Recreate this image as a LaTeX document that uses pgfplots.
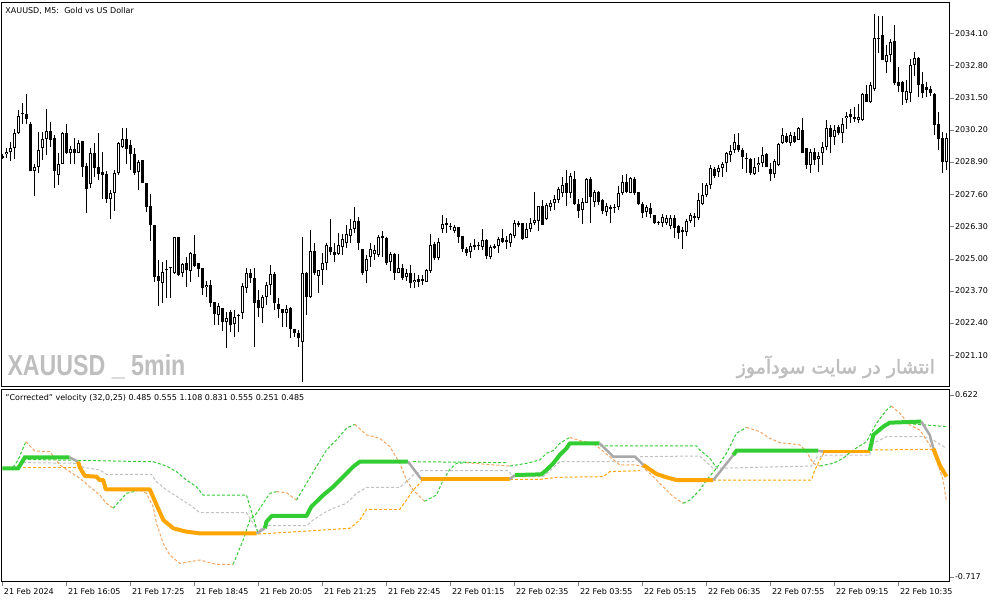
\documentclass[border=0pt]{standalone}
\usepackage{pgfplots}
\pgfplotsset{compat=1.18}
\usepackage{pgfplotstable}
\usepackage{fontspec}
\setmainfont{DejaVu Sans}
\newfontfamily\wmfont[FakeStretch=0.8]{Liberation Sans}
\newfontfamily\fafont[Script=Arabic,FakeBold=2.2]{DejaVu Sans}
\TeXXeTstate=1

\definecolor{upgreen}{RGB}{50,205,50}
\definecolor{dnorange}{RGB}{255,165,0}
\definecolor{sandy}{RGB}{244,164,96}
\definecolor{neutral}{RGB}{169,169,169}
\definecolor{midgray}{RGB}{192,192,192}
\definecolor{wmgray}{RGB}{190,190,190}

% XAUUSD M5 candles: bar index, open, high, low, close
\pgfplotstableread{
i o h l c
0 2029.16 2029.21 2029.02 2029.08
1 2029.21 2029.46 2029.08 2029.31
2 2029.29 2029.72 2028.94 2029.46
3 2029.46 2030.24 2029.02 2030.06
4 2030.06 2031.00 2030.02 2030.76
5 2030.87 2031.27 2030.42 2030.83
6 2030.83 2031.65 2030.42 2030.65
7 2030.42 2030.50 2028.53 2028.53
8 2028.53 2028.82 2027.53 2028.69
9 2028.69 2030.13 2028.45 2029.39
10 2029.46 2030.13 2028.98 2029.82
11 2029.82 2031.04 2029.19 2030.14
12 2030.14 2030.50 2029.52 2029.79
13 2029.86 2029.99 2027.85 2028.55
14 2028.37 2029.25 2027.97 2028.82
15 2028.82 2030.13 2028.81 2030.06
16 2030.06 2030.42 2029.23 2029.25
17 2029.25 2029.56 2028.82 2029.43
18 2029.43 2029.86 2028.82 2029.25
19 2029.25 2029.79 2029.25 2029.66
20 2029.75 2029.75 2028.31 2028.71
21 2028.74 2028.85 2026.86 2027.80
22 2028.00 2029.46 2027.84 2029.25
23 2029.28 2029.66 2028.31 2028.67
24 2028.69 2030.06 2028.18 2028.42
25 2028.51 2029.32 2027.41 2028.39
26 2028.42 2028.55 2027.23 2027.40
27 2027.40 2027.77 2026.59 2027.64
28 2027.64 2028.58 2026.94 2028.47
29 2028.47 2029.72 2028.38 2029.66
30 2029.49 2030.26 2029.46 2029.82
31 2029.82 2030.26 2028.82 2029.41
32 2029.59 2029.79 2028.58 2029.23
33 2029.21 2029.46 2028.38 2028.47
34 2028.51 2028.98 2027.77 2028.92
35 2028.97 2028.97 2028.04 2028.04
36 2028.04 2028.04 2026.87 2027.10
37 2027.13 2027.61 2025.73 2026.36
38 2026.36 2026.36 2024.07 2024.25
39 2024.30 2024.95 2023.09 2024.11
40 2024.03 2024.88 2023.22 2024.48
41 2024.60 2024.95 2023.40 2024.54
42 2024.61 2024.68 2023.40 2024.66
43 2024.41 2025.89 2024.37 2025.89
44 2025.89 2025.89 2024.30 2024.34
45 2024.44 2024.81 2024.25 2024.79
46 2024.81 2025.08 2023.87 2024.54
47 2024.52 2025.26 2024.07 2025.22
48 2025.19 2025.96 2024.68 2024.71
49 2024.81 2024.81 2024.27 2024.57
50 2024.61 2024.61 2023.53 2023.80
51 2023.84 2024.11 2023.44 2023.94
52 2023.94 2024.14 2023.06 2023.22
53 2023.26 2023.26 2022.32 2022.75
54 2022.71 2023.20 2022.32 2023.09
55 2022.99 2022.99 2022.09 2022.46
56 2022.46 2022.86 2021.38 2022.62
57 2022.86 2022.93 2022.05 2022.32
58 2022.35 2022.93 2021.82 2022.66
59 2022.73 2022.77 2022.05 2022.67
60 2022.79 2024.03 2022.55 2023.90
61 2023.80 2024.61 2023.60 2024.41
62 2024.44 2024.57 2024.00 2024.21
63 2024.21 2024.61 2021.45 2023.20
64 2023.33 2023.74 2022.66 2022.99
65 2022.99 2023.53 2022.39 2023.44
66 2023.44 2024.07 2023.13 2023.94
67 2023.92 2024.75 2023.53 2024.38
68 2024.38 2024.48 2022.93 2023.20
69 2023.16 2023.40 2022.59 2022.97
70 2022.97 2022.97 2022.26 2022.79
71 2022.79 2023.13 2022.26 2022.97
72 2022.99 2023.06 2021.78 2022.15
73 2022.15 2022.15 2021.85 2021.99
74 2022.01 2022.12 2021.45 2021.78
75 2021.65 2025.89 2020.04 2024.44
76 2024.44 2024.48 2022.73 2023.47
77 2023.44 2026.16 2023.40 2025.32
78 2025.32 2025.62 2024.34 2024.41
79 2024.30 2024.54 2023.60 2024.54
80 2024.54 2025.22 2023.94 2024.81
81 2024.81 2025.62 2024.54 2025.55
82 2025.46 2026.60 2025.15 2025.28
83 2025.28 2025.62 2024.88 2025.15
84 2025.18 2026.02 2025.15 2025.55
85 2025.46 2026.00 2025.15 2025.78
86 2025.62 2026.36 2025.42 2026.00
87 2025.93 2026.60 2025.65 2026.19
88 2026.19 2027.10 2026.02 2026.52
89 2026.52 2026.70 2025.35 2025.65
90 2025.38 2025.38 2024.34 2024.41
91 2024.52 2025.15 2024.00 2024.97
92 2025.08 2025.65 2024.65 2025.38
93 2025.18 2025.55 2024.95 2025.35
94 2025.15 2025.96 2025.08 2025.86
95 2025.92 2026.12 2025.08 2025.82
96 2025.82 2025.86 2024.75 2024.84
97 2024.88 2025.28 2024.52 2025.19
98 2025.19 2025.24 2024.14 2024.44
99 2024.44 2025.19 2024.41 2024.61
100 2024.61 2024.77 2024.14 2024.23
101 2024.25 2024.57 2024.11 2024.41
102 2024.41 2024.75 2023.80 2024.03
103 2024.05 2024.41 2023.80 2024.14
104 2024.17 2024.34 2023.84 2024.07
105 2024.10 2024.34 2023.94 2024.17
106 2024.07 2024.57 2024.07 2024.54
107 2024.52 2026.00 2024.44 2025.55
108 2025.58 2025.69 2024.95 2025.01
109 2025.04 2025.82 2024.95 2025.66
110 2026.21 2026.76 2026.02 2026.40
111 2026.45 2026.63 2026.02 2026.35
112 2026.32 2026.43 2026.16 2026.27
113 2026.13 2026.36 2026.02 2026.27
114 2026.27 2026.27 2025.65 2025.89
115 2025.92 2025.92 2025.28 2025.38
116 2025.39 2025.49 2025.11 2025.22
117 2025.26 2025.62 2025.01 2025.51
118 2025.49 2025.78 2025.35 2025.55
119 2025.55 2025.69 2025.35 2025.50
120 2025.49 2026.19 2025.35 2025.75
121 2025.75 2025.78 2024.97 2025.11
122 2025.08 2025.55 2024.97 2025.49
123 2025.45 2025.58 2025.38 2025.53
124 2025.53 2025.86 2025.22 2025.79
125 2025.85 2026.19 2025.65 2025.69
126 2025.75 2025.92 2025.38 2025.69
127 2025.65 2026.02 2025.49 2025.98
128 2025.93 2026.56 2025.82 2026.43
129 2026.45 2026.54 2026.27 2026.36
130 2026.43 2026.45 2025.75 2025.78
131 2025.85 2026.45 2025.82 2026.20
132 2026.20 2026.63 2026.09 2026.43
133 2026.43 2027.68 2026.36 2026.56
134 2026.53 2027.13 2026.12 2027.13
135 2027.13 2027.37 2026.36 2026.36
136 2026.59 2027.24 2026.56 2027.17
137 2027.07 2027.37 2026.93 2027.26
138 2027.24 2027.57 2026.97 2027.40
139 2027.37 2027.91 2027.24 2027.80
140 2027.66 2028.31 2027.50 2027.97
141 2028.07 2028.58 2027.13 2027.64
142 2027.64 2028.45 2027.44 2028.34
143 2028.20 2028.55 2027.17 2027.19
144 2027.21 2027.40 2026.63 2026.94
145 2026.97 2027.46 2026.40 2027.30
146 2027.26 2028.24 2027.26 2028.20
147 2028.20 2028.28 2026.45 2027.50
148 2027.30 2027.77 2027.07 2027.71
149 2027.71 2027.73 2027.17 2027.30
150 2027.37 2027.40 2026.80 2026.93
151 2026.88 2027.24 2026.74 2027.13
152 2027.10 2027.17 2026.45 2027.02
153 2027.03 2027.21 2026.83 2027.10
154 2027.07 2027.93 2026.97 2027.64
155 2027.64 2028.38 2027.57 2028.10
156 2028.10 2028.42 2027.64 2027.71
157 2027.66 2028.31 2027.64 2028.24
158 2028.20 2028.28 2027.57 2027.66
159 2027.71 2027.71 2027.17 2027.21
160 2027.21 2027.30 2026.63 2026.86
161 2026.90 2027.17 2026.70 2027.07
162 2027.05 2027.24 2026.63 2026.79
163 2026.76 2026.76 2026.40 2026.45
164 2026.48 2026.54 2026.36 2026.43
165 2026.45 2026.80 2026.27 2026.67
166 2026.45 2026.76 2026.36 2026.66
167 2026.32 2026.76 2026.19 2026.63
168 2026.63 2026.76 2025.82 2026.23
169 2026.32 2026.36 2025.78 2026.05
170 2026.16 2026.27 2025.38 2026.09
171 2026.09 2026.59 2025.92 2026.53
172 2026.53 2026.86 2026.45 2026.76
173 2026.72 2026.86 2026.27 2026.66
174 2026.66 2027.64 2026.56 2027.37
175 2027.19 2028.04 2027.17 2027.57
176 2027.57 2028.04 2027.48 2027.97
177 2027.97 2028.78 2027.80 2028.65
178 2028.61 2028.69 2028.24 2028.34
179 2028.51 2028.78 2028.28 2028.65
180 2028.65 2028.92 2028.31 2028.82
181 2028.85 2029.32 2028.51 2029.25
182 2029.19 2029.59 2028.92 2029.35
183 2029.39 2030.03 2029.25 2029.70
184 2029.59 2030.06 2029.32 2029.39
185 2029.39 2029.46 2028.61 2029.12
186 2029.05 2029.28 2028.45 2029.01
187 2029.01 2029.08 2028.38 2028.47
188 2028.40 2029.05 2028.38 2028.69
189 2028.78 2029.12 2028.51 2028.88
190 2028.88 2029.50 2028.69 2029.19
191 2029.23 2029.28 2028.72 2028.72
192 2028.61 2028.85 2028.15 2028.40
193 2028.40 2029.01 2028.24 2028.96
194 2028.78 2029.66 2028.74 2029.63
195 2029.66 2030.26 2029.63 2030.00
196 2029.95 2030.06 2029.66 2029.72
197 2029.68 2030.13 2029.55 2030.00
198 2029.95 2030.13 2029.66 2029.72
199 2029.79 2030.33 2029.79 2030.26
200 2030.20 2030.67 2029.25 2029.25
201 2029.46 2029.46 2028.61 2028.78
202 2028.78 2029.42 2028.45 2029.32
203 2029.32 2029.46 2028.78 2028.98
204 2029.01 2029.32 2028.51 2029.15
205 2029.25 2029.72 2028.78 2029.52
206 2029.52 2030.60 2029.39 2030.26
207 2030.26 2030.40 2029.25 2029.93
208 2029.90 2030.40 2029.59 2030.20
209 2030.30 2030.40 2029.99 2030.09
210 2030.09 2030.67 2029.66 2030.44
211 2030.67 2030.94 2030.22 2030.76
212 2030.84 2031.03 2030.46 2030.71
213 2030.71 2031.14 2030.53 2030.63
214 2030.60 2031.25 2030.49 2030.71
215 2030.60 2031.70 2030.57 2031.65
216 2031.65 2032.01 2031.34 2031.34
217 2031.34 2032.15 2031.30 2032.01
218 2031.84 2034.88 2031.78 2033.90
219 2033.90 2034.80 2033.32 2033.86
220 2034.03 2034.80 2033.00 2033.00
221 2032.95 2033.63 2032.48 2033.22
222 2033.22 2033.86 2032.95 2033.76
223 2033.79 2034.43 2032.01 2032.11
224 2032.15 2032.75 2031.74 2031.97
225 2032.15 2032.19 2031.20 2031.74
226 2031.41 2032.21 2031.27 2031.78
227 2031.70 2033.05 2031.34 2032.82
228 2032.82 2033.36 2032.38 2033.09
229 2033.09 2033.16 2031.51 2032.01
230 2032.05 2032.55 2031.47 2031.70
231 2031.92 2032.15 2031.51 2031.81
232 2031.84 2031.97 2031.57 2031.68
233 2031.65 2031.68 2030.00 2030.40
234 2030.44 2030.90 2029.39 2029.82
235 2029.86 2030.13 2028.45 2028.92
236 2028.92 2030.09 2028.58 2029.86
}\candles

\begin{document}
\begin{tikzpicture}
\useasboundingbox (0pt,0pt) rectangle (1003pt,603pt);

% ---- price panel ----
\begin{axis}[
  at={(1.5pt,216.5pt)}, anchor=south west,
  scale only axis, width=948pt, height=384pt,
  xmin=-0.25, xmax=236.75, ymin=2019.84, ymax=2035.34,
  line width=1pt,
  xtick=\empty,
  ytick={2021.1,2022.4,2023.7,2025.0,2026.3,2027.6,2028.9,2030.2,2031.5,2032.8,2034.1},
  yticklabels={2021.10,2022.40,2023.70,2025.00,2026.30,2027.60,2028.90,2030.20,2031.50,2032.80,2034.10},
  ytick pos=right, yticklabel pos=right,
  tick align=outside, major tick length=4pt,
  tick label style={font=\fontsize{8}{9}\selectfont, inner sep=0pt},
  yticklabel style={anchor=west, xshift=1pt},
]
% wicks
\addplot[black, line width=1pt, no markers,
  quiver={u=0, v=\thisrow{h}-\thisrow{l}}]
  table[x=i, y=l] {\candles};
% bodies
\addplot[black, line width=3pt, no markers, line cap=butt,
  quiver={u=0, v={max(abs(\thisrow{c}-\thisrow{o}),0.045)}}]
  table[x=i, y expr={min(\thisrow{o},\thisrow{c})}] {\candles};
% hollow centres of rising candles
\addplot[white, line width=1pt, no markers, line cap=butt,
  restrict expr to domain={\thisrow{c}-\thisrow{o}}{0.09:100},
  quiver={u=0, v=\thisrow{c}-\thisrow{o}-0.081}]
  table[x=i, y expr={\thisrow{o}+0.0405}] {\candles};

\node[anchor=north west, inner sep=0pt, font=\fontsize{8}{9}\selectfont]
  at (rel axis cs:0,1) [xshift=3.5pt, yshift=-4pt] {XAUUSD, M5:\ \ Gold vs US Dollar};
\node[anchor=base west, inner sep=0pt, text=wmgray,
  font=\wmfont\bfseries\fontsize{29}{29}\selectfont]
  at (rel axis cs:0,0) [xshift=5.5pt, yshift=11.5pt] {XAUUSD \_ 5min};
\node[anchor=base east, inner sep=0pt, text=wmgray,
  font=\fafont\fontsize{19}{19}\selectfont]
  at (rel axis cs:1,0) [xshift=-14pt, yshift=13pt] {\beginR انتشار در سایت سودآموز\endR};
\end{axis}

% ---- indicator panel ----
\begin{axis}[
  at={(1.5pt,21.5pt)}, anchor=south west,
  scale only axis, width=948pt, height=192pt,
  xmin=-0.25, xmax=236.75, ymin=-0.752, ymax=0.660,
  line width=1pt,
  xtick={0,16,32,48,64,80,96,112,128,144,160,176,192,208,224},
  xticklabels={21 Feb 2024,21 Feb 16:05,21 Feb 17:25,21 Feb 18:45,21 Feb 20:05,
    21 Feb 21:25,21 Feb 22:45,22 Feb 01:15,22 Feb 02:35,22 Feb 03:55,22 Feb 05:15,
    22 Feb 06:35,22 Feb 07:55,22 Feb 09:15,22 Feb 10:35},
  ytick={-0.717,0.622}, yticklabels={-0.717,0.622},
  xtick pos=bottom, ytick pos=right, yticklabel pos=right,
  tick align=outside, major tick length=4pt,
  tick label style={font=\fontsize{8}{9}\selectfont, inner sep=0pt},
  xticklabel style={anchor=north west, xshift=1pt, yshift=-2pt},
  yticklabel style={anchor=west, xshift=1pt},
  every axis plot/.append style={no markers},
  dsh/.style={line width=1pt, dash pattern=on 3pt off 2pt},
]
% lower band
\addplot[dnorange, dsh] coordinates {(5.16,0.088) (19.74,0.088)};
\addplot[dnorange, dsh] coordinates {(63.91,-0.403) (86.83,-0.361) (89.33,-0.300) (90.99,-0.221) (99.33,-0.221) (100.99,-0.153) (102.66,-0.079) (104.74,-0.018)};
\addplot[dnorange, dsh] coordinates {(124.33,-0.001) (134.33,-0.001) (138.49,0.014) (150.16,0.019) (151.83,0.056) (159.33,0.063)};
\addplot[dnorange, dsh] coordinates {(177.66,-0.006) (202.24,-0.006) (203.08,0.068) (204.33,0.142) (205.58,0.203)};
\addplot[dnorange, dsh] coordinates {(216.83,0.215) (232.66,0.220)};
% middle line
\addplot[midgray, dsh] coordinates {(5.16,0.122) (19.33,0.117) (20.16,0.088) (24.33,0.068) (25.99,0.036) (37.24,0.036) (38.49,-0.018) (40.99,-0.079) (44.33,-0.141) (46.83,-0.189) (49.33,-0.246) (60.99,-0.246) (63.91,-0.386) (65.16,-0.349) (65.99,-0.341) (75.99,-0.341) (77.66,-0.300) (80.16,-0.251) (82.66,-0.214) (85.99,-0.177) (88.49,-0.104) (90.99,-0.060) (99.33,-0.060) (100.99,-0.018) (102.66,0.031) (104.74,0.063) (126.41,0.063) (127.66,0.019) (135.16,0.019) (139.33,0.129) (157.66,0.129) (159.33,0.166) (174.33,0.171) (177.66,0.080) (202.24,0.097) (203.49,0.161) (205.99,0.178) (216.83,0.178) (217.66,0.264) (220.99,0.313) (230.16,0.313) (232.66,0.289) (235.99,0.227)};
% upper band
\addplot[upgreen, dsh] coordinates {(5.16,0.146) (37.66,0.129) (40.99,0.097) (43.49,0.056) (45.99,-0.006) (48.49,-0.055) (50.16,-0.116) (60.99,-0.116) (63.91,-0.398)};
\addplot[upgreen, dsh] coordinates {(102.66,0.129) (125.99,0.122)};
\addplot[upgreen, dsh] coordinates {(149.33,0.245) (173.49,0.245) (174.33,0.215) (176.83,0.154) (178.49,0.088)};
\addplot[upgreen, dsh] coordinates {(205.58,0.210) (216.83,0.210)};
\addplot[upgreen, dsh] coordinates {(227.66,0.406) (235.99,0.387)};
% raw velocity: green rising, sandy falling
\addplot[upgreen, dsh] coordinates {(0.16,0.073) (2.66,0.088) (3.91,0.142) (5.83,0.276)};
\addplot[sandy, dsh] coordinates {(5.83,0.276) (8.08,0.208) (11.83,0.203) (14.33,0.105) (16.83,0.056) (19.33,0.007) (21.83,-0.055) (24.33,-0.116) (25.99,-0.177) (27.66,-0.214)};
\addplot[upgreen, dsh] coordinates {(27.66,-0.214) (30.99,-0.104) (34.33,-0.079)};
\addplot[sandy, dsh] coordinates {(34.33,-0.079) (35.99,-0.104) (37.66,-0.202) (38.49,-0.324) (40.16,-0.471) (41.83,-0.557) (44.33,-0.619) (49.33,-0.594) (53.49,-0.626) (57.66,-0.626)};
\addplot[upgreen, dsh] coordinates {(57.66,-0.626) (60.16,-0.447) (61.83,-0.300) (63.49,-0.251) (65.16,-0.177) (66.83,-0.104) (68.49,-0.091)};
\addplot[sandy, dsh] coordinates {(68.49,-0.091) (70.99,-0.099) (73.49,-0.153)};
\addplot[upgreen, dsh] coordinates {(73.49,-0.153) (75.99,-0.030) (78.49,0.093) (80.99,0.215) (83.49,0.289) (85.99,0.375) (88.08,0.404)};
\addplot[sandy, dsh] coordinates {(88.08,0.404) (90.99,0.326) (94.33,0.301) (96.83,0.240) (99.33,0.117) (100.99,-0.006) (102.66,-0.079) (105.5,-0.162)};
\addplot[upgreen, dsh] coordinates {(105.5,-0.162) (108.49,-0.116) (110.16,-0.006) (111.83,0.073) (113.49,0.117) (115.99,0.122)};
\addplot[sandy, dsh] coordinates {(115.99,0.122) (120,0.112) (126.83,0.097)};
\addplot[upgreen, dsh] coordinates {(126.83,0.097) (130.99,0.117) (134.33,0.142) (135.99,0.191) (137.66,0.210) (139.33,0.264) (141.83,0.308)};
\addplot[sandy, dsh] coordinates {(141.83,0.308) (144.33,0.284) (147.66,0.264) (149.33,0.227) (151.83,0.166) (154.33,0.105) (158.49,0.105) (160.16,0.088) (162.66,0.019) (165.16,-0.055) (167.66,-0.128) (170.16,-0.177)};
\addplot[upgreen, dsh] coordinates {(170.16,-0.177) (171.83,-0.153) (174.33,-0.079) (175.99,-0.006) (178.49,0.080) (180.99,0.191) (183.49,0.338) (185.99,0.382)};
\addplot[sandy, dsh] coordinates {(185.99,0.382) (189.33,0.350) (191.83,0.301) (194.33,0.269) (197.66,0.259) (199.33,0.252) (200.99,0.203) (202.66,0.117) (204.33,0.097)};
\addplot[upgreen, dsh] coordinates {(204.33,0.097) (207.66,0.117) (210.16,0.154) (212.66,0.215) (215.99,0.276) (218.49,0.411) (220.99,0.509) (222.24,0.539)};
\addplot[sandy, dsh] coordinates {(222.24,0.539) (224.33,0.485) (226.83,0.399) (229.33,0.362) (231.83,0.252) (233.49,0.142) (235.16,-0.006) (235.99,-0.165)};
% corrected velocity (thick)
\addplot[upgreen, line width=4pt] coordinates {(0,0.080) (3.9,0.080) (5.6,0.161) (16.8,0.161)};
\addplot[neutral, line width=2.5pt] coordinates {(16.8,0.161) (18.9,0.129)};
\addplot[dnorange, line width=4pt, line join=round] coordinates {(18.9,0.129) (19.3,0.088) (20.6,0.024) (23.5,0.019) (24.3,-0.006) (25.2,-0.006) (25.8,-0.074) (36.8,-0.074) (40.2,-0.300) (42.7,-0.361) (46.0,-0.386) (49.3,-0.398) (63.5,-0.398)};
\addplot[neutral, line width=2.5pt] coordinates {(63.5,-0.398) (65.6,-0.361)};
\addplot[upgreen, line width=4pt, line join=round] coordinates {(65.6,-0.361) (66.0,-0.312) (67.3,-0.270) (76.0,-0.270) (77.2,-0.202) (80.2,-0.116) (82.7,-0.055) (85.2,0.019) (87.7,0.093) (89.3,0.129) (101.4,0.129)};
\addplot[neutral, line width=2.5pt] coordinates {(101.4,0.129) (104.7,0.0)};
\addplot[dnorange, line width=4pt] coordinates {(104.7,0.0) (126.8,0.0)};
\addplot[neutral, line width=2.5pt] coordinates {(126.8,0.0) (128.1,0.031)};
\addplot[upgreen, line width=4pt, line join=round] coordinates {(128.1,0.031) (134.7,0.036) (136.0,0.068) (137.7,0.117) (139.3,0.178) (141.0,0.227) (141.8,0.264) (149.3,0.264)};
\addplot[neutral, line width=2.5pt] coordinates {(149.3,0.264) (152.7,0.166) (158.1,0.166) (160.2,0.105)};
\addplot[dnorange, line width=4pt, line join=round] coordinates {(160.2,0.105) (163.5,0.039) (166.0,0.014) (168.5,-0.006) (177.7,-0.006)};
\addplot[neutral, line width=2.5pt] coordinates {(177.7,-0.006) (182.7,0.178)};
\addplot[upgreen, line width=4pt] coordinates {(182.7,0.178) (183.5,0.210) (203.9,0.210)};
\addplot[neutral, line width=2.5pt] coordinates {(203.9,0.210) (205.2,0.203)};
\addplot[dnorange, line width=2.5pt] coordinates {(205.2,0.203) (216.8,0.203)};
\addplot[upgreen, line width=4pt, line join=round] coordinates {(216.8,0.210) (217.7,0.326) (220.2,0.387) (221.8,0.416) (229.7,0.424)};
\addplot[neutral, line width=2.5pt] coordinates {(229.7,0.424) (231.8,0.326) (232.7,0.227)};
\addplot[dnorange, line width=4pt, line join=round] coordinates {(232.7,0.227) (234.3,0.105) (236.0,0.019)};

\node[anchor=north west, inner sep=0pt, font=\fontsize{8}{9}\selectfont]
  at (rel axis cs:0,1) [xshift=3.5pt, yshift=-4pt]
  {"Corrected" velocity (32,0,25) 0.485 0.555 1.108 0.831 0.555 0.251 0.485};
\end{axis}
\end{tikzpicture}
\end{document}
